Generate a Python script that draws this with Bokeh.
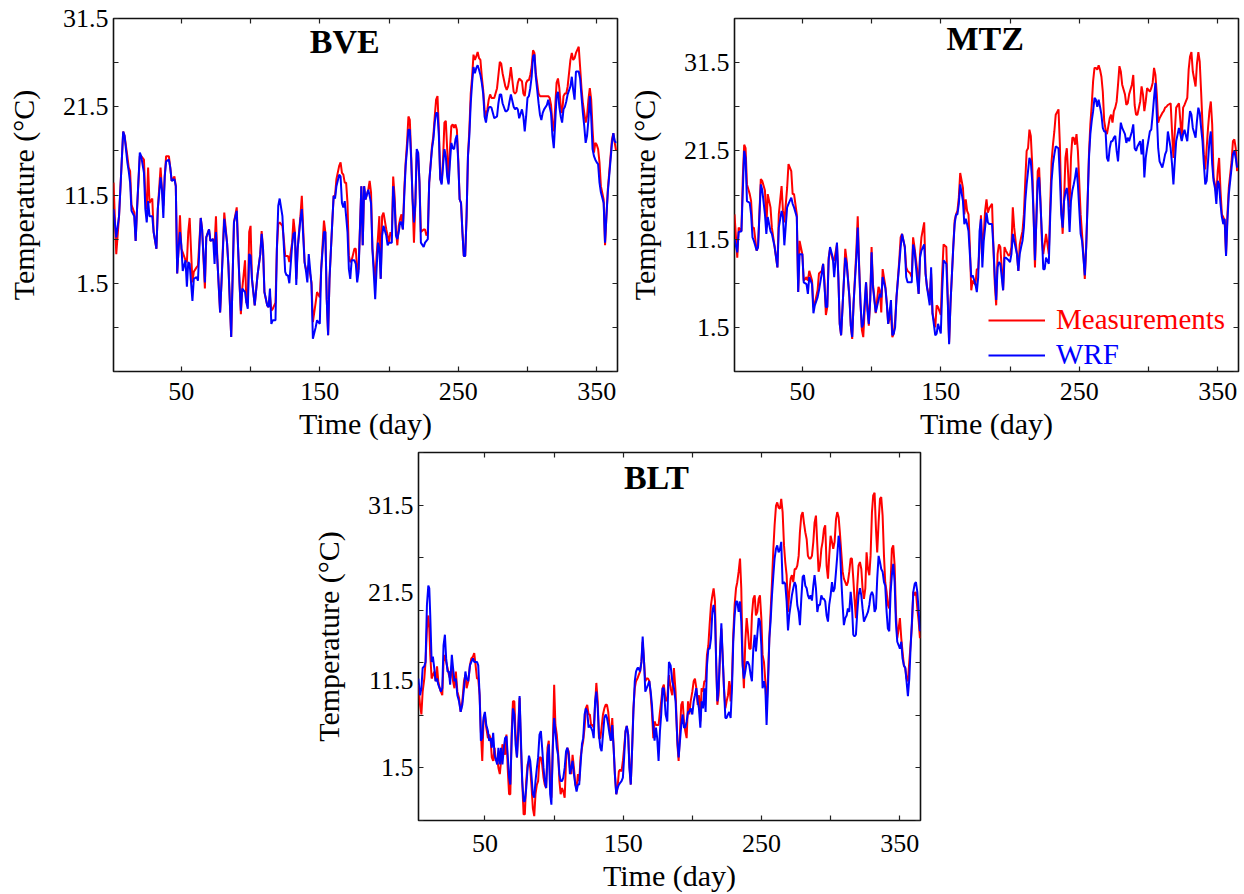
from bokeh.plotting import figure
from bokeh.models import Range1d, FixedTicker, LinearAxis, Label, Legend, LegendItem, Spacer
from bokeh.layouts import row, column
from bokeh.embed import file_html
from bokeh.resources import INLINE

FONT = "Liberation Serif"
RED = "#ff0000"
BLUE = "#0000ff"

X_LABELED = [50, 150, 250, 350]
X_UNLABELED = [100, 200, 300]
Y_LABELED = [1.5, 11.5, 21.5, 31.5]
BVE_Y_UNLABELED = [-8.5, -3.5, 6.5, 16.5, 26.5]
MTZ_Y_UNLABELED = [-3.5, 6.5, 16.5, 26.5, 36.5]
BLT_Y_MARKS = [-4.5, 1.5, 7.5, 13.5, 19.5, 25.5, 31.5, 37.5]

# ---------------- BVE ----------------
bve_day = [1, 3, 5, 8, 9, 11, 12, 13, 14, 16,
           17, 18, 20, 21, 23, 24, 25, 26, 27, 29,
           30, 32, 33, 35, 36, 37, 38, 39, 41, 42,
           43, 45, 46, 47, 48, 49, 50, 51, 53, 54,
           55, 56, 58, 59, 61, 62, 64, 65, 67, 68,
           70, 71, 73, 74, 75, 76, 78, 79, 81, 83,
           84, 86, 87, 88, 90, 91, 92, 93, 94, 96,
           97, 98, 99, 100, 101, 102, 103, 105, 107, 108,
           109, 110, 112, 113, 114, 115, 116, 118, 119, 120,
           121, 123, 124, 125, 126, 127, 128, 130, 131, 132,
           133, 134, 136, 137, 139, 140, 141, 142, 144, 145,
           147, 148, 150, 151, 153, 154, 155, 156, 157, 159,
           160, 161, 162, 164, 165, 166, 167, 168, 169, 170,
           171, 172, 173, 175, 176, 177, 178, 180, 181, 182,
           183, 185, 186, 187, 188, 190, 191, 192, 193, 194,
           195, 196, 198, 199, 200, 201, 202, 203, 204, 205,
           206, 207, 208, 209, 210, 211, 212, 213, 214, 215,
           216, 217, 218, 219, 220, 221, 222, 223, 225, 226,
           227, 228, 229, 231, 232, 233, 234, 235, 236, 237,
           238, 239, 240, 241, 242, 243, 244, 245, 246, 247,
           248, 249, 250, 251, 252, 253, 254, 255, 256, 257,
           258, 259, 260, 261, 262, 263, 264, 265, 266, 267,
           268, 269, 270, 271, 272, 273, 274, 275, 276, 278,
           279, 280, 281, 282, 284, 285, 286, 287, 288, 290,
           291, 292, 293, 294, 296, 297, 298, 299, 300, 301,
           302, 303, 304, 305, 306, 308, 309, 310, 311, 312,
           314, 315, 316, 317, 318, 319, 320, 321, 322, 323,
           324, 325, 326, 327, 328, 329, 331, 332, 333, 334,
           335, 337, 338, 339, 340, 341, 342, 343, 344, 345,
           346, 347, 348, 349, 350, 351, 352, 353, 355, 356,
           357, 358, 360, 361, 362, 363, 364]
bve_meas = [12.9, 4.8, 9.1, 18.7, 18.2, 15.9, 14.6, 14.2, 10.4, 9.5,
            6.3, 9.9, 15.9, 15.9, 15.5, 11.2, 9.9, 14.6, 10.6, 11.1,
            7.3, 5.4, 9.9, 14.6, 12.1, 10.3, 13.6, 15.9, 15.9, 14.6,
            13.1, 13.6, 12.5, 2.6, 5.4, 9.2, 5.4, 5.0, 4.1, 3.9,
            7.3, 8.9, 1.6, 2.8, 3.3, 3.5, 8.9, 7.6, 0.9, 6.7,
            7.6, 6.3, 6.5, 5.8, 9.1, 4.2, -1.8, 1.6, 9.5, 6.1,
            3.5, -4.6, 2.0, 8.4, 10.1, 5.4, 1.6, -2.0, 0.9, 4.1,
            -0.7, -0.7, 7.3, 8.0, 2.0, 0.5, -1.0, 2.4, 4.8, 7.4,
            5.4, 0.5, -1.0, -1.2, 0.1, -1.6, -1.4, -0.7, 5.4, 8.2,
            8.4, 8.0, 6.5, 4.6, 4.6, 4.6, 3.9, 6.1, 8.8, 7.3,
            2.0, 5.4, 9.1, 11.4, 3.9, 3.1, 3.1, 3.5, 1.6, -2.9,
            -0.7, 0.5, -0.1, 3.1, 8.6, 7.3, -0.3, -4.4, 2.0, 8.4,
            11.4, 11.4, 13.3, 14.8, 15.2, 14.0, 13.8, 12.9, 12.9, 10.6,
            4.6, 3.9, 4.1, 5.4, 5.4, 2.8, 3.1, 12.5, 5.8, 12.5,
            11.0, 12.1, 13.1, 11.8, 5.4, 1.6, 4.6, 6.7, 9.1, 2.0,
            9.1, 9.5, 7.6, 6.9, 6.1, 7.3, 6.9, 13.6, 11.4, 7.6,
            5.8, 8.0, 8.8, 9.3, 7.6, 12.1, 15.2, 17.4, 20.4, 20.0,
            15.9, 11.0, 6.1, 10.5, 16.3, 16.3, 12.9, 7.3, 7.6, 7.6,
            6.9, 7.3, 12.9, 17.0, 18.2, 20.4, 22.3, 22.7, 18.9, 13.3,
            12.9, 15.5, 19.7, 19.9, 16.7, 12.9, 16.7, 19.3, 19.5, 19.1,
            19.5, 18.9, 15.5, 11.0, 10.6, 7.3, 4.6, 4.6, 9.1, 15.9,
            18.9, 23.0, 24.9, 27.4, 26.8, 27.2, 27.7, 27.0, 26.8, 24.9,
            23.4, 21.2, 20.4, 21.2, 22.3, 22.9, 22.5, 22.5, 22.5, 23.6,
            25.1, 26.6, 26.4, 25.3, 23.8, 23.4, 23.8, 24.7, 26.0, 23.2,
            23.0, 23.2, 24.2, 24.7, 24.4, 23.0, 22.7, 24.2, 24.5, 24.5,
            25.1, 26.0, 27.9, 27.6, 25.3, 23.0, 22.7, 22.7, 22.7, 22.7,
            22.7, 22.7, 22.5, 21.7, 19.7, 18.7, 21.5, 24.2, 24.7, 23.6,
            21.5, 20.8, 22.7, 23.0, 23.0, 23.8, 26.8, 27.6, 26.8, 27.0,
            27.6, 28.3, 26.0, 23.6, 21.9, 20.8, 19.7, 20.4, 22.3, 23.6,
            22.3, 18.9, 16.3, 17.4, 17.2, 16.7, 15.2, 12.5, 11.0, 5.8,
            9.1, 12.1, 15.9, 17.8, 18.5, 17.4, 16.5]
bve_wrf = [9.9, 6.7, 9.1, 18.7, 18.2, 15.2, 14.2, 12.9, 9.7, 9.1,
           6.3, 9.9, 16.3, 15.9, 14.0, 9.9, 8.4, 10.8, 9.1, 9.1,
           7.3, 5.4, 9.9, 13.5, 12.1, 8.9, 13.6, 15.3, 15.5, 14.6,
           13.1, 13.3, 12.5, 2.6, 5.4, 7.3, 5.8, 2.9, 4.1, 1.1,
           3.9, 3.7, -0.5, 2.0, 2.2, 1.8, 8.9, 7.6, 1.6, 6.7,
           7.6, 6.3, 6.5, 3.7, 7.3, 4.2, -1.8, 1.6, 8.8, 6.1,
           3.5, -4.6, 2.0, 8.4, 9.7, 5.4, 1.6, -1.6, 0.9, 0.5,
           -0.7, -1.4, 4.8, 4.6, 2.0, 0.5, -1.0, 2.4, 4.8, 7.1,
           5.4, 0.5, -1.0, -1.2, 0.9, -3.1, -2.7, -2.7, 5.4, 10.3,
           11.1, 9.1, 5.8, 2.8, 2.4, 2.4, 1.5, 5.8, 7.1, 7.3,
           1.3, 5.4, 8.8, 9.9, 3.9, 2.9, 1.6, 4.8, 1.3, -4.8,
           -3.5, -2.7, -3.1, 3.1, 7.3, 7.3, -0.3, -4.4, 2.0, 8.4,
           11.4, 11.1, 12.5, 13.8, 13.6, 10.6, 10.1, 10.8, 9.1, 7.3,
           3.1, 2.0, 4.1, 4.1, 3.7, 1.6, 2.8, 12.5, 5.8, 12.5,
           11.0, 12.1, 11.4, 10.6, 5.4, -0.3, 3.1, 6.1, 5.4, 2.0,
           6.9, 8.0, 6.9, 5.8, 6.1, 6.1, 6.1, 12.5, 10.6, 6.9,
           6.5, 7.3, 8.4, 8.4, 7.6, 11.4, 14.8, 16.7, 18.9, 18.9,
           15.5, 11.0, 8.4, 10.5, 16.7, 16.3, 12.9, 6.1, 5.6, 6.1,
           6.3, 6.5, 12.9, 16.7, 17.8, 19.7, 20.8, 20.8, 18.2, 13.3,
           12.7, 14.8, 16.7, 15.9, 13.6, 12.7, 15.2, 17.4, 16.8, 16.7,
           17.8, 18.3, 15.2, 11.0, 10.6, 7.3, 4.6, 4.6, 9.1, 15.9,
           18.2, 21.9, 24.2, 26.0, 25.3, 25.9, 26.2, 25.7, 25.1, 24.2,
           23.0, 20.4, 19.7, 20.8, 21.4, 21.5, 21.4, 20.8, 20.2, 20.4,
           21.9, 22.9, 22.9, 21.9, 21.0, 21.0, 21.2, 22.1, 22.9, 21.5,
           21.2, 21.4, 21.2, 20.2, 21.2, 20.4, 18.7, 20.4, 22.5, 22.7,
           23.6, 24.9, 27.2, 27.4, 24.9, 21.9, 20.6, 20.0, 20.8, 21.2,
           21.7, 22.3, 21.5, 20.8, 18.2, 16.8, 19.7, 22.7, 23.2, 21.5,
           20.4, 19.7, 21.2, 21.5, 22.1, 22.9, 23.8, 24.9, 23.4, 22.3,
           25.5, 25.5, 24.7, 22.7, 20.8, 19.3, 17.4, 18.2, 20.0, 22.7,
           20.4, 16.7, 15.9, 15.5, 15.2, 15.0, 12.9, 11.8, 10.6, 6.1,
           9.1, 11.8, 15.5, 17.4, 18.5, 17.6, 17.4]

# ---------------- MTZ ----------------
mtz_day = [1, 3, 4, 6, 7, 8, 9, 10, 12, 13,
           14, 15, 17, 18, 20, 21, 23, 24, 25, 27,
           28, 30, 32, 33, 35, 36, 37, 39, 40, 42,
           43, 44, 46, 47, 48, 50, 51, 53, 54, 55,
           57, 58, 59, 61, 62, 64, 65, 66, 67, 68,
           69, 70, 72, 73, 75, 76, 77, 78, 80, 81,
           82, 84, 85, 86, 87, 89, 90, 91, 92, 93,
           94, 96, 97, 98, 99, 100, 101, 102, 103, 105,
           106, 107, 108, 110, 111, 112, 114, 115, 116, 117,
           118, 120, 121, 122, 124, 125, 126, 128, 129, 130,
           131, 133, 134, 135, 136, 138, 139, 140, 142, 143,
           144, 146, 147, 148, 150, 151, 152, 154, 155, 156,
           157, 159, 160, 161, 162, 163, 164, 166, 167, 168,
           169, 170, 171, 172, 173, 175, 176, 177, 178, 179,
           180, 181, 182, 183, 184, 185, 187, 188, 189, 190,
           191, 192, 193, 195, 196, 197, 199, 200, 201, 202,
           203, 205, 206, 207, 208, 209, 210, 211, 212, 213,
           214, 215, 216, 217, 218, 220, 221, 222, 223, 224,
           225, 226, 228, 229, 230, 231, 232, 233, 235, 236,
           237, 238, 239, 240, 241, 242, 243, 244, 245, 246,
           247, 248, 249, 251, 252, 253, 254, 255, 256, 257,
           258, 259, 260, 261, 262, 263, 264, 265, 266, 267,
           268, 269, 270, 271, 272, 273, 274, 275, 276, 277,
           278, 279, 280, 281, 283, 284, 285, 286, 288, 289,
           290, 291, 292, 294, 295, 296, 297, 298, 299, 301,
           302, 303, 304, 305, 306, 307, 308, 310, 311, 312,
           313, 314, 316, 317, 318, 319, 320, 322, 323, 324,
           325, 326, 328, 329, 330, 331, 332, 334, 335, 336,
           337, 338, 339, 340, 341, 342, 343, 344, 345, 346,
           347, 348, 349, 350, 351, 352, 353, 354, 355, 356,
           357, 358, 360, 361, 362, 363, 364]
mtz_meas = [14.3, 9.4, 12.8, 12.4, 18.5, 22.2, 21.8, 17.7, 16.6, 15.8,
            12.8, 12.8, 10.2, 10.6, 18.3, 18.1, 17.0, 12.8, 16.6, 15.1,
            12.8, 10.6, 8.3, 14.3, 17.5, 14.7, 13.4, 17.3, 20.0, 19.2,
            16.6, 16.6, 14.3, 5.5, 11.3, 9.8, 6.8, 7.2, 6.8, 7.9,
            6.8, 3.8, 4.2, 5.7, 7.6, 7.9, 8.7, 6.8, 2.9, 3.8,
            9.4, 10.4, 9.1, 9.1, 10.9, 7.2, 1.9, 0.6, 6.8, 10.4,
            9.1, 4.9, 1.7, 0.2, 4.2, 10.2, 14.1, 8.7, 4.2, 1.2,
            0.4, 6.6, 4.2, 1.7, 4.6, 10.6, 6.4, 4.9, 3.1, 6.1,
            5.7, 3.2, 8.1, 6.1, 4.2, 1.9, 3.1, 0.4, 0.8, 2.3,
            4.9, 9.1, 11.7, 12.1, 10.6, 8.3, 7.9, 7.6, 7.2, 11.7,
            10.6, 7.9, 5.3, 9.8, 11.7, 13.4, 7.6, 6.1, 4.6, 7.6,
            3.1, 1.5, 4.0, 3.8, 2.9, 7.6, 10.9, 10.6, 4.9, -0.2,
            4.2, 10.6, 13.6, 14.3, 14.7, 16.2, 19.0, 17.3, 14.3, 16.0,
            14.7, 14.3, 10.6, 5.7, 6.8, 6.3, 8.1, 8.1, 10.6, 14.2,
            10.6, 12.0, 14.7, 16.0, 14.5, 15.0, 15.5, 10.6, 6.4, 4.0,
            9.8, 10.9, 10.6, 5.7, 10.6, 10.2, 9.6, 9.8, 10.6, 15.1,
            12.8, 9.8, 7.9, 10.9, 11.7, 12.4, 14.3, 18.1, 21.5, 21.8,
            23.9, 23.2, 20.0, 14.3, 8.3, 19.2, 19.6, 15.8, 11.3, 9.8,
            10.9, 12.1, 9.8, 15.1, 20.3, 22.2, 23.7, 25.6, 26.2, 22.2,
            15.5, 12.1, 15.8, 20.7, 21.8, 18.8, 15.1, 20.7, 23.0, 23.0,
            22.2, 23.4, 21.5, 14.3, 12.1, 9.8, 7.0, 10.6, 15.8, 21.1,
            24.5, 26.7, 29.4, 30.9, 30.9, 30.7, 31.2, 30.7, 29.9, 28.2,
            24.9, 23.9, 23.4, 24.3, 25.2, 25.6, 24.7, 26.0, 26.4, 27.1,
            29.0, 31.1, 30.5, 29.0, 27.9, 26.7, 26.9, 27.9, 29.0, 30.1,
            26.7, 25.6, 25.6, 27.1, 28.8, 27.9, 26.0, 27.1, 28.6, 28.2,
            28.6, 29.2, 30.9, 30.1, 27.9, 24.7, 25.2, 25.8, 26.0, 26.4,
            26.5, 26.7, 26.9, 23.7, 20.7, 23.7, 26.4, 26.9, 24.9, 22.8,
            26.4, 26.7, 27.5, 30.7, 32.2, 32.7, 30.5, 28.8, 31.4, 32.7,
            31.6, 28.2, 24.5, 21.1, 19.4, 21.8, 24.1, 26.0, 27.1, 24.5,
            18.5, 17.7, 16.6, 19.2, 20.7, 17.0, 14.3, 14.0, 13.6, 9.8,
            14.3, 17.3, 20.3, 22.6, 22.8, 21.8, 19.2]
mtz_wrf = [11.5, 10.0, 12.3, 12.4, 17.0, 21.5, 20.7, 15.8, 15.6, 14.3,
           11.7, 11.3, 10.2, 10.6, 17.7, 17.1, 14.3, 12.1, 14.0, 12.4,
           12.1, 10.6, 8.3, 12.8, 14.7, 14.0, 10.8, 15.1, 15.5, 16.2,
           15.5, 15.1, 14.0, 5.5, 9.8, 9.8, 6.6, 6.4, 5.3, 7.2,
           6.4, 3.1, 4.0, 4.9, 5.7, 7.6, 8.7, 6.1, 3.8, 3.8,
           9.1, 10.6, 9.4, 7.2, 11.1, 7.2, 1.9, 0.6, 6.8, 9.4,
           8.7, 4.9, 1.7, 0.4, 4.2, 9.4, 12.8, 8.3, 4.2, 1.5,
           1.9, 6.6, 3.4, 1.9, 4.6, 10.0, 6.1, 4.6, 3.2, 4.6,
           5.3, 4.9, 7.2, 5.9, 4.2, 1.9, 4.6, 0.6, 0.8, 1.5,
           4.9, 8.7, 10.6, 12.1, 10.6, 7.2, 6.6, 6.6, 6.6, 10.9,
           10.2, 6.8, 5.3, 9.4, 10.2, 10.9, 7.6, 6.1, 4.0, 8.3,
           3.1, 0.6, 0.8, 1.9, 0.8, 5.7, 9.1, 8.7, 4.6, -0.4,
           4.2, 10.6, 13.2, 14.3, 14.3, 15.5, 17.7, 15.8, 13.2, 13.8,
           13.2, 12.4, 9.8, 7.2, 7.4, 6.4, 5.5, 7.2, 12.4, 13.8,
           8.3, 11.3, 12.8, 14.5, 13.4, 13.2, 13.2, 10.6, 7.2, 4.6,
           8.3, 8.9, 8.7, 5.7, 9.4, 9.4, 9.1, 8.9, 9.8, 12.1,
           11.3, 9.8, 7.9, 9.8, 10.6, 11.3, 12.8, 15.8, 17.7, 19.2,
           20.7, 20.3, 18.1, 14.3, 9.1, 18.1, 18.5, 15.5, 12.1, 8.1,
           8.1, 9.4, 8.7, 14.0, 18.1, 20.0, 21.1, 22.0, 21.8, 18.5,
           14.3, 12.8, 15.8, 16.8, 17.3, 15.8, 12.3, 15.8, 17.0, 17.7,
           18.5, 19.6, 17.7, 12.1, 11.3, 9.4, 7.4, 10.6, 15.5, 20.7,
           23.4, 24.9, 26.0, 27.5, 27.3, 26.5, 27.3, 26.5, 25.6, 24.1,
           23.7, 23.7, 20.7, 20.3, 21.8, 22.6, 22.6, 23.0, 23.2, 21.5,
           20.3, 22.6, 24.7, 24.1, 23.4, 22.4, 23.0, 22.6, 23.7, 24.5,
           21.8, 21.5, 22.0, 22.6, 21.1, 22.8, 18.5, 20.7, 21.8, 23.7,
           23.9, 25.6, 27.5, 29.2, 25.6, 21.8, 20.3, 19.6, 20.3, 21.1,
           21.5, 23.7, 21.8, 20.0, 17.7, 20.3, 22.6, 24.1, 23.4, 22.6,
           23.4, 23.9, 22.6, 24.5, 26.0, 25.6, 24.1, 23.0, 24.9, 26.4,
           25.8, 24.1, 22.6, 20.0, 17.7, 18.1, 20.3, 22.6, 23.7, 20.0,
           18.1, 17.3, 15.5, 18.1, 17.7, 15.5, 14.0, 13.2, 13.8, 9.6,
           13.6, 16.6, 19.6, 21.1, 21.5, 20.7, 19.6]

# ---------------- BLT ----------------
blt_day = [1.9, 3.1, 4.1, 5.0, 6.2, 7.1, 8.1, 9.1, 9.8, 10.5,
           11.5, 12.4, 13.4, 14.4, 15.4, 16.3, 17.3, 18.2, 19.2, 20.1,
           21.1, 22.0, 23.0, 24.0, 24.9, 26.1, 27.0, 28.0, 29.0, 30.1,
           31.3, 32.5, 33.7, 34.9, 35.9, 36.8, 38.0, 39.2, 40.2, 41.4,
           42.3, 43.3, 44.3, 45.2, 46.2, 47.1, 48.1, 49.0, 50.0, 51.0,
           52.2, 53.1, 54.1, 55.0, 56.0, 57.0, 57.9, 58.9, 59.8, 60.8,
           61.7, 62.7, 63.7, 64.6, 65.6, 66.5, 67.5, 68.4, 69.4, 70.3,
           71.3, 72.2, 73.2, 74.2, 75.1, 76.1, 77.0, 78.0, 78.9, 79.9,
           80.9, 81.9, 82.8, 83.8, 84.7, 85.7, 86.6, 87.6, 88.5, 89.5,
           90.5, 91.4, 92.4, 93.3, 94.3, 95.3, 96.2, 97.2, 98.1, 99.1,
           100.1, 101.0, 102.0, 102.9, 103.9, 104.8, 105.8, 106.7, 107.7, 108.7,
           109.6, 110.6, 111.5, 112.5, 113.4, 114.4, 115.4, 116.3, 117.3, 118.2,
           119.2, 120.2, 121.1, 122.1, 123.0, 124.0, 125.0, 125.9, 126.8, 127.8,
           128.7, 129.7, 130.6, 131.6, 132.5, 133.5, 134.4, 135.4, 136.4, 137.3,
           138.3, 139.2, 140.2, 141.1, 142.1, 143.1, 144.0, 145.0, 145.9, 146.9,
           147.8, 148.8, 149.8, 150.7, 151.7, 152.6, 153.6, 154.5, 155.5, 156.5,
           157.4, 158.4, 159.3, 160.3, 161.2, 162.2, 163.2, 164.1, 165.1, 166.0,
           167.0, 168.0, 168.9, 169.9, 170.8, 171.8, 172.7, 173.7, 174.6, 175.6,
           176.6, 177.5, 178.5, 179.4, 180.7, 181.9, 183.1, 184.3, 185.5, 186.7,
           187.9, 189.2, 190.1, 191.1, 192.0, 193.0, 194.0, 194.9, 195.9, 196.9,
           197.8, 198.8, 200.0, 201.0, 201.9, 202.9, 203.9, 204.8, 205.8, 206.7,
           207.7, 208.7, 209.6, 210.6, 211.6, 212.5, 213.5, 214.5, 215.4, 216.4,
           217.3, 218.1, 219.0, 220.0, 221.0, 221.9, 222.9, 223.9, 224.8, 225.8,
           226.7, 227.7, 228.7, 229.6, 230.6, 231.6, 232.5, 233.5, 234.5, 235.4,
           236.4, 237.3, 238.3, 239.3, 240.2, 241.2, 242.2, 243.1, 244.1, 245.1,
           246.0, 247.0, 248.0, 248.9, 249.9, 250.8, 251.8, 252.8, 253.7, 254.7,
           255.7, 256.6, 257.6, 258.6, 259.5, 260.5, 261.4, 262.4, 263.4, 264.3,
           265.3, 266.3, 267.2, 268.2, 269.2, 270.1, 271.1, 272.0, 273.0, 274.0,
           274.9, 275.9, 276.9, 277.8, 278.8, 279.8, 280.7, 281.7, 282.7, 283.6,
           284.6, 285.5, 286.5, 287.5, 288.4, 289.4, 290.4, 291.3, 292.3, 293.3,
           294.2, 295.2, 296.1, 297.1, 298.1, 299.0, 300.0, 301.0, 301.9, 302.9,
           303.9, 304.8, 305.8, 306.7, 307.7, 308.7, 309.6, 310.6, 311.6, 312.5,
           313.5, 314.5, 315.4, 316.4, 317.3, 318.3, 319.3, 320.2, 321.2, 322.2,
           323.1, 324.1, 325.1, 326.0, 327.0, 328.0, 328.9, 329.9, 330.8, 331.8,
           332.8, 333.7, 334.7, 335.7, 336.6, 337.6, 338.6, 339.5, 340.5, 341.4,
           342.4, 343.4, 344.3, 345.3, 346.3, 347.2, 348.2, 349.2, 350.1, 351.1,
           352.0, 353.0, 354.0, 354.9, 355.9, 356.9, 357.8, 358.8, 359.8, 360.8,
           361.7, 362.7, 363.7, 364.6]
blt_meas = [11.0, 8.7, 7.6, 10.2, 11.7, 13.6, 17.4, 18.9, 17.4, 14.4,
            11.7, 12.1, 12.5, 11.4, 13.1, 11.4, 10.6, 10.2, 9.8, 13.6,
            14.4, 13.6, 12.9, 12.1, 11.7, 13.2, 11.4, 10.6, 12.5, 10.2,
            9.5, 7.9, 9.1, 11.4, 12.1, 10.6, 11.4, 13.2, 14.0, 14.2,
            14.6, 13.2, 11.7, 11.7, 9.8, 5.7, 2.3, 6.8, 7.6, 6.1,
            4.9, 5.3, 4.9, 2.7, 2.3, 3.8, 2.3, 2.5, 1.5, 0.8,
            2.3, 4.2, 3.8, 3.0, 5.3, 1.5, -1.5, -1.5, 5.7, 9.1,
            9.1, 5.3, 2.7, 6.4, 9.5, 3.8, 0.0, -3.8, -3.8, 0.0,
            1.9, 2.3, 1.5, -0.8, -3.1, -4.0, -1.5, -0.4, 0.0, 2.7,
            2.7, 1.9, 0.4, -0.4, -0.8, 3.8, 4.6, 0.0, -1.9, 3.8,
            11.0, 6.4, 5.3, 3.4, 0.0, -1.5, -0.8, -1.2, -1.9, 2.3,
            3.8, 3.4, 1.5, 0.8, 3.0, 1.5, -0.4, -0.8, 0.8, 0.0,
            2.7, 3.8, 4.6, 6.1, 8.3, 8.7, 7.6, 7.6, 6.4, 6.4,
            6.1, 8.7, 11.2, 9.1, 4.9, 4.9, 6.1, 7.6, 8.3, 8.7,
            8.7, 7.9, 6.1, 4.6, 7.2, 3.8, 0.8, -1.5, -0.8, 1.1,
            1.3, 1.1, 2.3, 3.8, 5.7, 6.3, 5.3, 1.9, -0.4, 3.8,
            8.3, 10.6, 11.4, 11.7, 12.1, 12.5, 13.6, 15.9, 13.6, 11.4,
            11.7, 11.7, 11.4, 9.8, 7.9, 4.9, 6.8, 6.4, 6.4, 6.4,
            7.9, 9.1, 10.6, 11.0, 9.1, 9.5, 12.1, 10.6, 9.8, 12.9,
            10.2, 4.2, 2.3, 5.7, 8.7, 9.1, 6.8, 5.7, 4.9, 9.1,
            7.6, 9.1, 10.2, 11.4, 11.7, 10.6, 8.7, 9.8, 6.8, 10.6,
            10.2, 11.4, 11.4, 14.4, 15.5, 17.8, 20.1, 21.2, 22.0, 20.5,
            13.2, 8.7, 9.8, 14.4, 17.4, 14.4, 10.6, 8.3, 9.1, 9.8,
            11.4, 9.1, 11.7, 16.7, 20.1, 22.0, 22.7, 23.9, 25.4, 22.0,
            13.6, 10.6, 15.9, 18.6, 17.1, 15.1, 15.1, 18.9, 20.8, 21.2,
            18.9, 19.3, 20.8, 21.2, 18.6, 14.4, 13.6, 11.4, 8.3, 11.7,
            16.3, 19.3, 22.7, 26.5, 29.2, 31.4, 31.8, 31.2, 31.1, 32.2,
            30.7, 26.9, 25.0, 23.5, 19.3, 21.6, 23.1, 23.5, 22.7, 24.2,
            24.2, 24.6, 25.7, 28.4, 30.3, 30.7, 29.5, 28.4, 27.6, 25.7,
            25.4, 25.4, 25.7, 27.3, 29.5, 30.3, 26.9, 23.9, 24.6, 26.5,
            27.3, 28.8, 29.2, 24.6, 23.1, 25.7, 28.0, 27.3, 26.5, 27.3,
            29.9, 30.7, 30.1, 28.4, 26.1, 23.9, 23.1, 22.7, 22.3, 22.7,
            23.9, 25.4, 25.4, 23.1, 20.8, 18.6, 22.3, 24.6, 25.0, 24.2,
            22.0, 20.8, 22.0, 26.1, 24.2, 23.5, 25.7, 30.7, 32.6, 32.9,
            28.8, 26.1, 29.5, 32.2, 32.4, 30.3, 25.7, 22.7, 21.6, 20.1,
            19.7, 22.7, 26.5, 26.9, 24.6, 19.3, 16.3, 17.4, 18.6, 16.3,
            14.8, 13.2, 12.9, 11.7, 11.4, 13.6, 15.5, 17.8, 21.6, 21.2,
            21.6, 19.7, 18.2, 16.3]
blt_wrf = [11.7, 9.8, 10.6, 12.9, 13.1, 13.6, 20.1, 22.3, 22.0, 18.9,
           13.6, 14.2, 12.9, 11.4, 11.7, 11.0, 10.6, 10.2, 10.6, 15.5,
           16.7, 14.0, 12.5, 12.5, 11.0, 14.4, 12.9, 11.4, 11.7, 9.8,
           9.1, 7.9, 8.7, 10.6, 12.5, 11.7, 11.4, 13.2, 13.6, 14.0,
           13.6, 13.6, 13.6, 13.2, 9.8, 4.6, 4.9, 7.2, 7.9, 6.4,
           5.7, 4.6, 4.9, 3.8, 5.5, 3.0, 2.5, 1.9, 3.8, 1.9,
           3.8, 1.9, 3.8, 4.9, 5.1, 3.0, 0.4, -0.4, 4.9, 8.3,
           7.6, 4.2, 2.7, 5.7, 9.7, 4.6, 0.0, -2.3, -2.3, -0.8,
           1.5, 2.9, 2.3, 0.4, -1.5, -1.9, 0.0, 1.5, 2.7, 5.3,
           5.7, 3.8, 1.5, 0.0, -0.8, 3.0, 4.2, -1.5, -2.7, 3.8,
           7.2, 5.7, 3.8, 3.0, 0.8, 0.0, 0.0, 0.4, 1.5, 3.4,
           3.8, 3.0, 0.8, 1.5, 2.3, 0.8, -0.4, -1.2, -0.4, -0.4,
           1.9, 4.2, 4.9, 7.6, 8.3, 7.9, 6.1, 6.4, 6.1, 5.7,
           4.9, 9.1, 10.2, 8.3, 5.3, 3.8, 3.4, 5.3, 7.2, 7.6,
           7.2, 6.4, 5.3, 4.6, 6.4, 3.8, 0.8, -1.5, -0.8, -0.4,
           -0.2, 0.0, 0.4, 2.7, 5.7, 6.3, 5.3, 1.5, -0.4, 3.8,
           7.9, 11.4, 12.5, 12.9, 12.9, 12.5, 13.6, 16.5, 13.6, 10.2,
           10.6, 11.0, 11.4, 10.2, 8.7, 6.1, 4.6, 6.1, 4.9, 2.3,
           5.7, 7.6, 10.6, 10.6, 7.6, 6.8, 13.6, 13.2, 11.4, 10.6,
           9.1, 4.6, 2.7, 4.6, 6.4, 7.6, 6.1, 6.1, 6.8, 7.9,
           7.9, 8.3, 7.6, 9.1, 9.8, 10.6, 9.1, 8.3, 6.1, 9.1,
           8.3, 10.6, 7.9, 13.2, 15.1, 15.1, 16.3, 19.3, 20.1, 18.9,
           13.2, 9.1, 10.6, 14.4, 18.0, 14.4, 10.6, 7.2, 7.2, 7.6,
           7.9, 7.2, 10.6, 15.9, 18.9, 20.5, 20.5, 19.3, 20.5, 18.2,
           13.2, 11.7, 12.5, 13.6, 13.6, 13.2, 12.1, 11.4, 15.1, 16.7,
           14.8, 16.7, 18.6, 18.2, 15.5, 10.6, 11.4, 10.6, 6.4, 10.6,
           16.3, 18.2, 21.2, 23.5, 25.4, 26.5, 26.9, 26.1, 26.5, 27.3,
           22.5, 22.7, 22.5, 20.5, 17.2, 18.9, 20.1, 21.2, 22.0, 22.7,
           22.3, 20.1, 19.3, 17.8, 20.8, 23.3, 23.5, 22.3, 22.0, 21.2,
           20.8, 21.2, 20.6, 22.3, 23.5, 22.0, 19.3, 20.1, 20.1, 21.2,
           20.8, 20.8, 20.5, 18.9, 18.2, 20.1, 21.2, 22.7, 21.6, 22.0,
           23.9, 25.7, 28.0, 26.9, 23.1, 20.1, 17.8, 18.6, 18.9, 19.7,
           19.3, 21.6, 20.1, 16.7, 16.5, 16.7, 19.3, 21.2, 22.0, 21.2,
           19.7, 18.2, 18.6, 18.9, 19.3, 20.1, 21.2, 21.6, 21.2, 19.3,
           19.7, 23.1, 25.7, 25.0, 24.2, 23.9, 22.7, 22.3, 19.3, 17.4,
           17.1, 21.6, 23.5, 24.8, 22.7, 18.2, 15.9, 15.5, 15.1, 15.9,
           14.0, 13.2, 12.9, 11.4, 9.7, 11.7, 15.1, 18.2, 21.6, 22.5,
           22.7, 21.6, 19.3, 17.1]


def style_axis(ax, tick_in=5):
    ax.axis_line_color = None
    ax.major_tick_in = tick_in
    ax.major_tick_out = 0
    ax.minor_tick_in = 5
    ax.minor_tick_out = 0
    ax.major_tick_line_color = "#222222"
    ax.minor_tick_line_color = "#222222"
    ax.major_tick_line_width = 1.2
    ax.minor_tick_line_width = 1.2
    ax.major_label_text_font = FONT
    ax.major_label_text_font_size = "26px"
    ax.major_label_text_color = "black"
    ax.axis_label_text_font = FONT
    ax.axis_label_text_font_size = "30px"
    ax.axis_label_text_font_style = "normal"
    ax.axis_label_text_color = "black"


def mark_axis(marks):
    # an axis that only draws inward tick marks (as minor ticks), without labels
    ax = LinearAxis(ticker=FixedTicker(ticks=[], minor_ticks=marks))
    style_axis(ax)
    ax.major_label_standoff = 0
    return ax


def make_panel(name, days, meas, wrf, xr, yr, y_major, y_minor, y_marks_all,
               width, height, bl, br, bt, bb, title_x, title_y,
               y_major_tick_in=5, x_std=11, x_lab_std=4, y_lab_std=20):
    p = figure(width=width, height=height, output_backend="svg", toolbar_location=None,
               x_range=Range1d(*xr), y_range=Range1d(*yr),
               min_border_left=bl, min_border_right=br, min_border_top=bt, min_border_bottom=bb)
    p.xgrid.visible = False
    p.ygrid.visible = False
    p.background_fill_color = "white"
    p.border_fill_color = "white"
    p.outline_line_color = "#111111"
    p.outline_line_width = 1.6

    r_meas = p.line(days, meas, line_color=RED, line_width=2.0)
    r_wrf = p.line(days, wrf, line_color=BLUE, line_width=2.0)

    xax = p.xaxis[0]
    xax.ticker = FixedTicker(ticks=X_LABELED, minor_ticks=X_UNLABELED)
    style_axis(xax)
    xax.axis_label = "Time (day)"
    xax.major_label_standoff = x_std
    xax.axis_label_standoff = x_lab_std

    yax = p.yaxis[0]
    yax.ticker = FixedTicker(ticks=y_major, minor_ticks=y_minor)
    style_axis(yax, tick_in=y_major_tick_in)
    yax.axis_label = "Temperature (°C)"
    yax.major_label_standoff = 5
    yax.axis_label_standoff = y_lab_std

    p.add_layout(mark_axis(y_marks_all), "right")
    p.add_layout(mark_axis(X_LABELED + X_UNLABELED), "above")

    p.add_layout(Label(x=title_x, y=title_y, text=name, text_font=FONT,
                       text_font_style="bold", text_font_size="34px",
                       text_align="center", text_baseline="middle", text_color="black"))
    return p, r_meas, r_wrf


p1, _, _ = make_panel("BVE", bve_day, bve_meas, bve_wrf, (1, 365), (-8.5, 31.5),
                      Y_LABELED, BVE_Y_UNLABELED, sorted(Y_LABELED + BVE_Y_UNLABELED),
                      622, 446, 113, 5, 17, 75, 168, 28.9)
p2, rm, rw = make_panel("MTZ", mtz_day, mtz_meas, mtz_wrf, (1, 365), (-3.5, 36.5),
                        Y_LABELED, MTZ_Y_UNLABELED, sorted(Y_LABELED + MTZ_Y_UNLABELED),
                        622, 446, 112, 6, 18, 73, 182, 34.2)
p3, _, _ = make_panel("BLT", blt_day, blt_meas, blt_wrf, (2, 365), (-4.5, 37.5),
                      Y_LABELED, BLT_Y_MARKS, BLT_Y_MARKS,
                      630, 448, 118, 10, 6, 74, 174, 34.7,
                      y_major_tick_in=0, x_std=14, x_lab_std=4)

common = dict(label_text_font=FONT, label_text_font_size="29px", glyph_width=57,
              glyph_height=20, label_standoff=11, padding=0, margin=0, spacing=0,
              border_line_color=None, background_fill_alpha=0)
leg1 = Legend(items=[LegendItem(label="Measurements", renderers=[rm])],
              location=(254, 35), label_text_color=RED, **common)
leg2 = Legend(items=[LegendItem(label="WRF", renderers=[rw])],
              location=(254, 0), label_text_color=BLUE, **common)
p2.add_layout(leg1)
p2.add_layout(leg2)

layout = column(row(p1, p2), row(Spacer(width=300, height=448), p3))

open("out.html", "w").write(file_html(layout, INLINE))
